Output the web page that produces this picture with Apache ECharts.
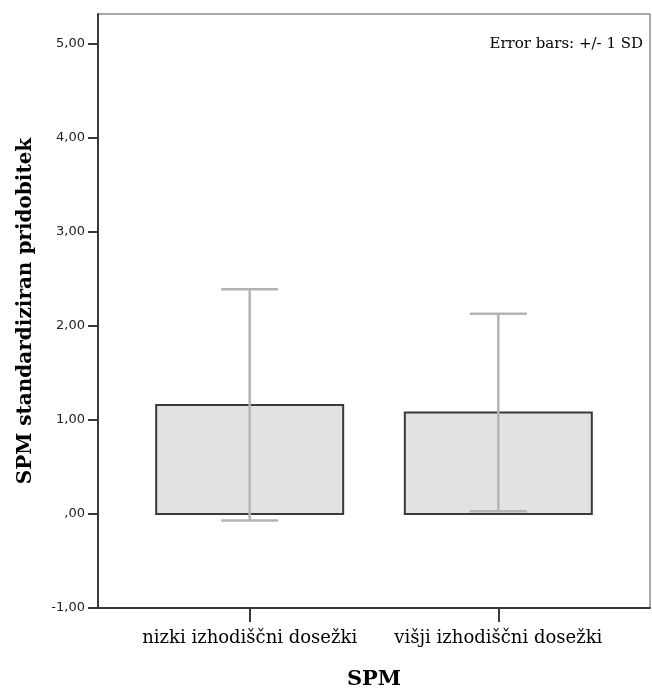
<!DOCTYPE html>
<html>
<head>
<meta charset="utf-8">
<script src="https://cdn.jsdelivr.net/npm/echarts@6/dist/echarts.min.js"></script>
<style>
html,body{margin:0;padding:0;background:#fff;}
#chart{width:652px;height:688px;}
</style>
</head>
<body>
<div id="chart"></div>
<script>
// ---- data ----
const categories = ['nizki izhodiščni dosežki', 'višji izhodiščni dosežki'];
const means = [1.16, 1.08];
const sds = [1.23, 1.05];
const yTicks = [-1, 0, 1, 2, 3, 4, 5];
const yTitle = 'SPM standardiziran pridobitek';
const xTitle = 'SPM';
const note = 'Error bars: +/- 1 SD';

const chart = echarts.init(document.getElementById('chart'), null, {renderer: 'canvas'});

const barData = means.map((m, i) => [i, m]);
const errData = means.map((m, i) => [i, m - sds[i], m + sds[i]]);

function fmtY(v) {
  let s = Number(v).toFixed(2).replace('.', ',');
  if (s.startsWith('0,')) s = s.slice(1);
  return s;
}

const BAR_HALF = 0.376;   // half bar width in axis units
const CAP_HALF = 28.5;    // cap half width px

chart.setOption({
  backgroundColor: '#ffffff',
  animation: false,
  title: {
    text: note,
    right: 4,
    top: 32,
    textStyle: {fontFamily: 'DejaVu Serif', fontSize: 15, fontWeight: 'normal', color: '#000'}
  },
  grid: {left: 98, right: 2, top: 14, bottom: 80, outerBoundsMode: 'none', containLabel: false,
         show: true, borderColor: '#555', borderWidth: 1, backgroundColor: 'transparent'},
  xAxis: {
    type: 'value',
    min: -0.61,
    max: 1.61,
    splitLine: {show: false},
    axisLine: {show: true, onZero: false, lineStyle: {color: '#3a3a3a', width: 2}},
    axisTick: {show: true, inside: false, customValues: [0, 1], length: 14, lineStyle: {color: '#3a3a3a', width: 2}},
    axisLabel: {
      customValues: [0, 1],
      formatter: v => categories[Math.round(v)] || '',
      fontFamily: 'DejaVu Serif', fontSize: 18, color: '#000', margin: 21
    },
    name: xTitle,
    nameLocation: 'middle',
    nameGap: 61,
    nameTextStyle: {fontFamily: 'DejaVu Serif', fontSize: 21, fontWeight: 'bold', color: '#000'}
  },
  yAxis: {
    type: 'value',
    min: -1,
    max: 5.319,
    splitLine: {show: false},
    axisLine: {show: true, onZero: false, lineStyle: {color: '#3a3a3a', width: 2}},
    axisTick: {show: true, inside: false, customValues: yTicks, length: 10, lineStyle: {color: '#3a3a3a', width: 2}},
    axisLabel: {
      customValues: yTicks,
      formatter: fmtY,
      fontFamily: 'DejaVu Sans', fontSize: 13, color: '#222', margin: 13
    },
    name: yTitle,
    nameLocation: 'middle',
    nameGap: 62,
    nameTextStyle: {fontFamily: 'DejaVu Serif', fontSize: 20, fontWeight: 'bold', color: '#000'}
  },
  series: [
    {
      type: 'custom',
      data: barData,
      encode: {x: 0, y: 1},
      renderItem: function (params, api) {
        const x = api.value(0), v = api.value(1);
        const p1 = api.coord([x - BAR_HALF, v]);
        const p2 = api.coord([x + BAR_HALF, 0]);
        return {
          type: 'rect',
          shape: {x: p1[0], y: Math.min(p1[1], p2[1]), width: p2[0] - p1[0], height: Math.abs(p2[1] - p1[1])},
          style: {fill: '#e2e2e2', stroke: '#3a3a3a', lineWidth: 2}
        };
      }
    },
    {
      type: 'custom',
      data: errData,
      encode: {x: 0, y: [1, 2]},
      z: 5,
      renderItem: function (params, api) {
        const x = api.value(0);
        const lo = api.coord([x, api.value(1)]);
        const hi = api.coord([x, api.value(2)]);
        const st = {stroke: '#b4b4b4', lineWidth: 2.5};
        return {
          type: 'group',
          children: [
            {type: 'line', shape: {x1: lo[0], y1: lo[1], x2: hi[0], y2: hi[1]}, style: st},
            {type: 'line', shape: {x1: hi[0] - CAP_HALF, y1: hi[1], x2: hi[0] + CAP_HALF, y2: hi[1]}, style: st},
            {type: 'line', shape: {x1: lo[0] - CAP_HALF, y1: lo[1], x2: lo[0] + CAP_HALF, y2: lo[1]}, style: st}
          ]
        };
      }
    }
  ]
});
</script>
</body>
</html>
